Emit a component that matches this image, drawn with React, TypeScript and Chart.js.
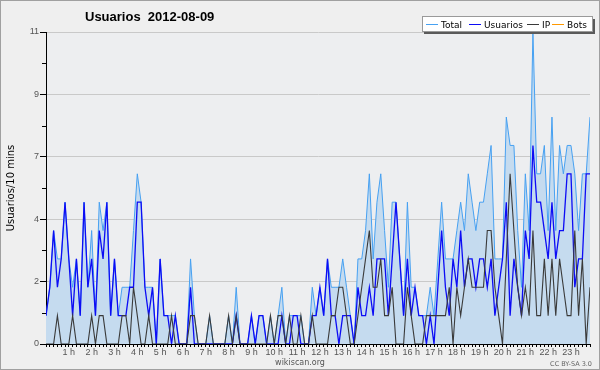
import { useEffect, useRef } from 'react';
import { Chart, registerables } from 'chart.js';

Chart.register(...registerables);

const TITLE = 'Usuarios  2012-08-09';
const Y_TITLE = 'Usuarios/10 mins';
const FOOTER = 'wikiscan.org';
const LICENSE = 'CC BY-SA 3.0';

// one point every 10 minutes, 00:00 .. 23:50
const hourLabels = [
  '1 h', '2 h', '3 h', '4 h', '5 h', '6 h', '7 h', '8 h', '9 h', '10 h', '11 h', '12 h',
  '13 h', '14 h', '15 h', '16 h', '17 h', '18 h', '19 h', '20 h', '21 h', '22 h', '23 h',
];
const yMajorTicks = [0, 2.2, 4.4, 6.6, 8.8, 11];
const yMinorTicks = [1.1, 3.3, 5.5, 7.7, 9.9];

const total = [
  1, 2, 4, 3, 3, 5, 3, 2, 3, 1,
  5, 2, 4, 1, 5, 4, 5, 1, 3, 1,
  2, 2, 2, 4, 6, 5, 2, 2, 2, 0,
  3, 1, 1, 1, 1, 0, 0, 0, 3, 1,
  0, 0, 0, 1, 0, 0, 0, 0, 1, 0,
  2, 0, 0, 0, 1, 0, 1, 1, 0, 1,
  0, 1, 2, 0, 1, 1, 1, 1, 0, 0,
  2, 1, 2, 1, 3, 2, 2, 2, 3, 2,
  1, 0, 3, 3, 4, 6, 3, 5, 6, 4,
  2, 5, 5, 3, 1, 5, 2, 2, 1, 1,
  1, 2, 1, 3, 5, 3, 3, 3, 4, 5,
  4, 6, 5, 4, 5, 5, 6, 7, 3, 3,
  3, 8, 7, 7, 4, 2, 6, 4, 11, 6,
  6, 7, 4, 8, 4, 7, 6, 7, 7, 6,
  4, 6, 6, 8,
];

const usuarios = [
  1, 2, 4, 2, 3, 5, 3, 1, 3, 1,
  5, 2, 3, 1, 4, 3, 5, 1, 3, 1,
  1, 1, 2, 2, 5, 5, 2, 1, 2, 0,
  3, 1, 1, 0, 1, 0, 0, 0, 2, 0,
  0, 0, 0, 0, 0, 0, 0, 0, 0, 0,
  1, 0, 0, 0, 1, 0, 1, 1, 0, 0,
  0, 0, 1, 0, 0, 1, 1, 0, 0, 0,
  1, 1, 2, 1, 3, 1, 1, 0, 1, 1,
  1, 0, 2, 1, 1, 2, 1, 3, 3, 3,
  1, 3, 5, 3, 1, 3, 1, 2, 1, 1,
  0, 1, 0, 2, 4, 2, 1, 3, 2, 4,
  2, 3, 3, 2, 3, 3, 2, 3, 1, 2,
  3, 5, 1, 3, 2, 1, 4, 3, 7, 5,
  5, 4, 3, 5, 3, 4, 4, 6, 6, 2,
  3, 3, 6, 6,
];

const ip = [
  0, 0, 0, 1, 0, 0, 0, 1, 0, 0,
  0, 0, 1, 0, 1, 1, 0, 0, 0, 0,
  1, 1, 0, 2, 1, 0, 0, 1, 0, 0,
  0, 0, 0, 1, 0, 0, 0, 0, 1, 1,
  0, 0, 0, 1, 0, 0, 0, 0, 1, 0,
  1, 0, 0, 0, 0, 0, 0, 0, 0, 1,
  0, 1, 1, 0, 1, 0, 0, 1, 0, 0,
  1, 0, 0, 0, 0, 1, 1, 2, 2, 1,
  0, 0, 1, 2, 3, 4, 2, 2, 3, 1,
  1, 2, 0, 0, 0, 2, 1, 0, 0, 0,
  1, 1, 1, 1, 1, 1, 2, 0, 2, 1,
  2, 3, 2, 2, 2, 2, 4, 4, 2, 1,
  0, 3, 6, 4, 2, 1, 2, 1, 4, 1,
  1, 3, 1, 3, 1, 3, 2, 1, 1, 4,
  1, 3, 0, 2,
];

const bots: number[] = [];

const COLORS = {
  total: '#47a1f2',
  totalFill: '#c5dbef',
  usuarios: '#0c0cf5',
  ip: '#3a3a3a',
  bots: '#ff9900',
};

const toPoints = (arr: number[]) => arr.map((v, i) => ({ x: i, y: v }));

const legendX = [426, 469, 527, 552];

const decor = {
  id: 'decor',
  beforeDraw(chart: any) {
    const { ctx, chartArea: a, width, height } = chart;
    ctx.save();
    ctx.fillStyle = '#efefef';
    ctx.fillRect(0, 0, width, height);
    ctx.fillStyle = '#edeef0';
    ctx.fillRect(a.left, a.top, a.right - a.left, a.bottom - a.top);
    ctx.restore();
  },
  afterDraw(chart: any) {
    const { ctx, chartArea: a, width, height } = chart;
    const yScale = chart.scales.y;
    ctx.save();
    // minor y ticks
    ctx.strokeStyle = '#000';
    ctx.lineWidth = 1;
    yMinorTicks.forEach((v) => {
      const py = Math.round(yScale.getPixelForValue(v)) + 0.5;
      ctx.beginPath();
      ctx.moveTo(a.left - 4, py);
      ctx.lineTo(a.left, py);
      ctx.stroke();
    });
    // title
    ctx.fillStyle = '#000';
    ctx.font = 'bold 13px "Liberation Sans", Arial, sans-serif';
    ctx.textAlign = 'left';
    ctx.textBaseline = 'alphabetic';
    ctx.fillText(TITLE, 85, 21);
    // y title
    ctx.save();
    ctx.translate(14, (a.top + a.bottom) / 2);
    ctx.rotate(-Math.PI / 2);
    ctx.font = '10px "DejaVu Sans", sans-serif';
    ctx.textAlign = 'center';
    ctx.textBaseline = 'alphabetic';
    ctx.fillStyle = '#000';
    ctx.fillText(Y_TITLE, 0, 0);
    ctx.restore();
    // legend box with shadow
    ctx.fillStyle = '#5a5a5a';
    ctx.fillRect(424, 19, 171, 15);
    ctx.fillStyle = '#ffffff';
    ctx.fillRect(422, 17, 171, 15);
    ctx.strokeStyle = '#9a9a9a';
    ctx.strokeRect(422.5, 16.5, 170, 15);
    ctx.font = '9px "DejaVu Sans", sans-serif';
    ctx.textBaseline = 'alphabetic';
    chart.data.datasets.forEach((ds: any, i: number) => {
      const x = legendX[i];
      ctx.strokeStyle = ds.borderColor;
      ctx.lineWidth = 1;
      ctx.beginPath();
      ctx.moveTo(x, 24.5);
      ctx.lineTo(x + 12, 24.5);
      ctx.stroke();
      ctx.fillStyle = '#000';
      ctx.fillText(ds.label, x + 15, 28);
    });
    // footer
    ctx.fillStyle = '#555';
    ctx.font = '8px "DejaVu Sans", sans-serif';
    ctx.textAlign = 'center';
    ctx.fillText(FOOTER, width / 2, 365);
    ctx.font = '6.5px "DejaVu Sans", sans-serif';
    ctx.textAlign = 'right';
    ctx.fillStyle = '#666';
    ctx.fillText(LICENSE, 592, 366);
    // frame
    ctx.strokeStyle = '#a0a0a0';
    ctx.lineWidth = 1;
    ctx.strokeRect(0.5, 0.5, width - 1, height - 1);
    ctx.restore();
  },
};

export default function App() {
  const ref = useRef<HTMLCanvasElement | null>(null);

  useEffect(() => {
    document.body.style.margin = '0';
    const canvas = ref.current;
    if (!canvas) return;
    const chart = new Chart(canvas, {
      type: 'line',
      data: {
        datasets: [
          {
            label: 'Total',
            data: toPoints(total),
            borderColor: COLORS.total,
            backgroundColor: COLORS.totalFill,
            borderWidth: 1,
            fill: 'origin',
            pointRadius: 0,
            tension: 0,
            order: 3,
          },
          {
            label: 'Usuarios',
            data: toPoints(usuarios),
            borderColor: COLORS.usuarios,
            borderWidth: 1.3,
            fill: false,
            pointRadius: 0,
            tension: 0,
            order: 2,
          },
          {
            label: 'IP',
            data: toPoints(ip),
            borderColor: COLORS.ip,
            borderWidth: 1.1,
            fill: false,
            pointRadius: 0,
            tension: 0,
            order: 1,
          },
          {
            label: 'Bots',
            data: toPoints(bots),
            borderColor: COLORS.bots,
            borderWidth: 1,
            fill: false,
            pointRadius: 0,
            order: 0,
          },
        ],
      },
      options: {
        responsive: false,
        animation: false,
        devicePixelRatio: 1,
        layout: { padding: { left: 0, top: 32, right: 10, bottom: 0 } },
        plugins: {
          legend: { display: false },
          title: { display: false },
          tooltip: { enabled: false },
        },
        scales: {
          x: {
            type: 'linear',
            min: 0,
            max: total.length - 1,
            afterBuildTicks: (s: any) => {
              s.ticks = total.map((_, i) => ({ value: i }));
            },
            afterFit: (s: any) => {
              s.height = 26;
            },
            ticks: {
              autoSkip: false,
              maxRotation: 0,
              minRotation: 0,
              padding: 0,
              color: '#555',
              font: { family: '"Liberation Sans", Arial, sans-serif', size: 9 },
              callback: (v: any) => {
                const n = Number(v);
                return n > 0 && n % 6 === 0 ? hourLabels[n / 6 - 1] : '';
              },
            },
            grid: {
              drawOnChartArea: false,
              drawTicks: true,
              tickLength: 3,
              tickColor: '#000',
              tickWidth: 1,
            },
            border: { color: '#000', width: 1 },
          },
          y: {
            min: 0,
            max: 11,
            afterBuildTicks: (s: any) => {
              s.ticks = yMajorTicks.map((v) => ({ value: v }));
            },
            afterFit: (s: any) => {
              s.width = 46;
            },
            ticks: {
              autoSkip: false,
              padding: 1,
              color: '#555',
              font: { family: '"Liberation Sans", Arial, sans-serif', size: 9 },
              callback: (v: any) => String(Math.round(Number(v))),
            },
            grid: {
              color: (c: any) => (c.index > 0 ? '#c9c9c9' : 'rgba(0,0,0,0)'),
              tickColor: '#000',
              tickLength: 6,
              drawTicks: true,
            },
            border: { color: '#000', width: 1 },
          },
        },
      },
      plugins: [decor],
    });
    return () => chart.destroy();
  }, []);

  return (
    <canvas
      ref={ref}
      width={600}
      height={370}
      style={{ display: 'block', width: 600, height: 370 }}
    />
  );
}
